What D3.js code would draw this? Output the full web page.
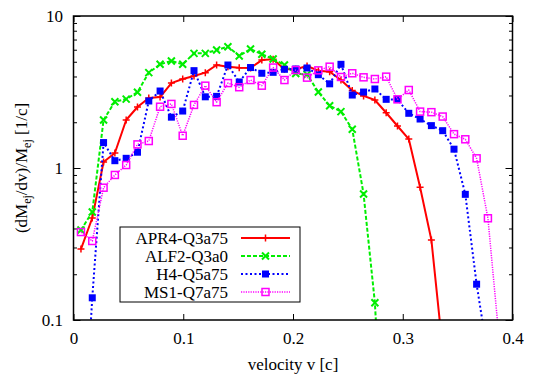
<!DOCTYPE html>
<html><head><meta charset="utf-8">
<script src="https://cdn.jsdelivr.net/npm/d3@7"></script>
<style>
body{margin:0;background:#fff}
svg{display:block}
svg text{font-family:"Liberation Serif","Tinos","DejaVu Serif","Nimbus Roman","FreeSerif","Times New Roman",Times,serif !important;fill:#000}
</style>
</head><body>
<svg id="chart" width="536" height="377"></svg>
<script>
// velocity bins
const velocity = [0.0068,0.0171,0.0274,0.0377,0.0480,0.0583,0.0686,0.0789,0.0892,0.0995,
  0.1098,0.1201,0.1304,0.1407,0.1510,0.1613,0.1716,0.1819,0.1922,0.2025,
  0.2128,0.2231,0.2334,0.2437,0.2540,0.2643,0.2746,0.2849,0.2952,0.3055,
  0.3158,0.3261,0.3364,0.3467,0.3570,0.3673,0.3776,0.3879];

const apr4 = [0.293,0.469,1.095,1.255,2.07,2.52,2.89,2.93,3.62,3.85,4.03,4.24,4.76,4.64,4.57,4.55,5.13,5.19,4.46,4.46,4.69,4.37,4.30,3.79,3.23,2.98,2.80,2.31,1.89,1.55,0.746,0.336,0.064];
const alf2 = [0.391,0.513,2.07,2.73,2.84,3.15,4.24,4.81,5.06,4.81,5.68,5.68,5.98,6.28,5.46,6.07,5.60,5.21,4.76,4.19,4.12,3.16,2.57,2.35,1.80,0.675,0.130,0.006];
const h4 = [0.0076,0.140,1.47,1.117,1.158,1.27,2.76,3.21,2.16,2.37,4.37,2.94,2.96,4.76,3.68,4.58,4.20,4.26,4.46,4.48,4.55,4.11,3.58,4.81,3.02,3.16,3.31,2.83,2.82,2.29,2.10,1.90,1.76,1.33,0.671,0.172,0.058];
const ms1 = [0.379,0.331,0.742,0.90,1.046,1.43,1.505,2.53,2.64,1.63,2.60,3.48,2.71,3.62,3.40,3.79,3.48,4.58,3.79,4.41,3.93,4.39,4.64,3.97,4.20,3.95,3.85,3.99,2.83,3.26,2.35,2.33,2.18,1.67,1.545,1.158,0.467,0.074];

const seriesNames = ["APR4-Q3a75","ALF2-Q3a0","H4-Q5a75","MS1-Q7a75"];
const seriesColors = ["#ff0000","#00ee00","#0000ff","#ff00ff"];
const xTicks = [0,0.1,0.2,0.3,0.4];
const yTicks = [0.1,1,10];
const yTickLabels = ["0.1","1","10"];
const yMinorTicks = [0.2,0.3,0.4,0.5,0.6,0.7,0.8,0.9,2,3,4,5,6,7,8,9];

const series = [
  {name:seriesNames[0], vals:apr4, color:seriesColors[0], dash:null, width:2, marker:"plus"},
  {name:seriesNames[1], vals:alf2, color:seriesColors[1], dash:"4,2", width:2, marker:"cross"},
  {name:seriesNames[2], vals:h4, color:seriesColors[2], dash:"2,2.5", width:2, marker:"fsquare"},
  {name:seriesNames[3], vals:ms1, color:seriesColors[3], dash:"1.2,1.2", width:1.5, marker:"osquare"}
];

const FONT = "'Liberation Serif', Tinos, 'DejaVu Serif', 'Nimbus Roman', FreeSerif, 'Times New Roman', Times, serif";
const L=73.5, R=512.5, T=16, B=320;
const svg = d3.select("#chart").attr("font-family", FONT);
const x = d3.scaleLinear().domain([0,0.4]).range([L,R]);
const y = d3.scaleLog().domain([0.1,10]).range([B,T]);

svg.append("defs").append("clipPath").attr("id","clip")
  .append("rect").attr("x",L).attr("y",T).attr("width",R-L).attr("height",B-T);

// axes
const fs = 17;
const gx = svg.append("g").attr("transform",`translate(0,${B})`)
  .call(d3.axisBottom(x).tickValues(xTicks).tickFormat(d3.format("")).tickSizeInner(-6).tickSizeOuter(0).tickPadding(12));
const gxt = svg.append("g").attr("transform",`translate(0,${T})`)
  .call(d3.axisTop(x).tickValues(xTicks).tickFormat("").tickSizeInner(-6).tickSizeOuter(0));
const gy = svg.append("g").attr("transform",`translate(${L},0)`)
  .call(d3.axisLeft(y).tickValues(yTicks).tickFormat((d,i)=>yTickLabels[i]).tickSizeInner(-7).tickSizeOuter(0).tickPadding(10.5));
const gym = svg.append("g").attr("transform",`translate(${L},0)`)
  .call(d3.axisLeft(y).tickValues(yMinorTicks).tickFormat("").tickSizeInner(-3.5).tickSizeOuter(0));
const gyr = svg.append("g").attr("transform",`translate(${R},0)`)
  .call(d3.axisRight(y).tickValues(yTicks).tickFormat("").tickSizeInner(-7).tickSizeOuter(0));
const gyrm = svg.append("g").attr("transform",`translate(${R},0)`)
  .call(d3.axisRight(y).tickValues(yMinorTicks).tickFormat("").tickSizeInner(-3.5).tickSizeOuter(0));
[gx,gxt,gy,gym,gyr,gyrm].forEach(g=>{
  g.attr("font-family", FONT).attr("font-size", fs);
  g.select(".domain").remove();
  g.selectAll("line").attr("stroke","#000").attr("stroke-width",1);
  g.selectAll("text").attr("font-size",fs).attr("fill","#000");
});

// lines
const line = d3.line().x(d=>x(d[0])).y(d=>y(d[1]));
const plot = svg.append("g").attr("clip-path","url(#clip)");

function drawMarker(g, type, color, cx, cy){
  if(type==="plus"){
    g.append("path").attr("d",`M${cx-3.5},${cy}H${cx+3.5}M${cx},${cy-3.5}V${cy+3.5}`)
      .attr("stroke",color).attr("stroke-width",1.5).attr("fill","none");
  } else if(type==="cross"){
    g.append("path").attr("d",`M${cx-3.5},${cy-3.5}L${cx+3.5},${cy+3.5}M${cx-3.5},${cy+3.5}L${cx+3.5},${cy-3.5}`)
      .attr("stroke",color).attr("stroke-width",2).attr("fill","none");
  } else if(type==="fsquare"){
    g.append("rect").attr("x",cx-3.5).attr("y",cy-3.5).attr("width",7).attr("height",7).attr("fill",color);
  } else {
    g.append("rect").attr("x",cx-3.5).attr("y",cy-3.5).attr("width",7).attr("height",7)
      .attr("fill","none").attr("stroke",color).attr("stroke-width",1.5);
  }
}

series.forEach(s=>{
  const pts = s.vals.map((v,i)=>[velocity[i],v]);
  plot.append("path").datum(pts).attr("d",line)
    .attr("fill","none").attr("stroke",s.color).attr("stroke-width",s.width)
    .attr("stroke-dasharray",s.dash).attr("stroke-linejoin","round");
  const mg = plot.append("g");
  pts.forEach(p=>{ if(p[1]>=0.1) drawMarker(mg, s.marker, s.color, x(p[0]), y(p[1])); });
});

// frame
svg.append("rect").attr("x",L).attr("y",T).attr("width",R-L).attr("height",B-T)
  .attr("fill","none").attr("stroke","#000").attr("stroke-width",1.5);

// legend
const lg = svg.append("g");
lg.append("rect").attr("x",120).attr("y",227).attr("width",180).attr("height",75)
  .attr("fill","#fff").attr("stroke","#000").attr("stroke-width",1);
series.forEach((s,i)=>{
  const cy = 238 + i*18;
  lg.append("text").attr("x",228).attr("y",cy+5.5).attr("text-anchor","end")
    .attr("font-size",fs).text(s.name);
  lg.append("line").attr("x1",241).attr("x2",290).attr("y1",cy).attr("y2",cy)
    .attr("stroke",s.color).attr("stroke-width",s.width).attr("stroke-dasharray",s.dash);
  drawMarker(lg, s.marker, s.color, 265.5, cy);
});

// axis titles
svg.append("text").attr("x",293).attr("y",370).attr("text-anchor","middle")
  .attr("font-size",fs).text("velocity v [c]");
const yt = svg.append("text").attr("transform","translate(27,168) rotate(-90)")
  .attr("text-anchor","middle").attr("font-size",fs);
yt.append("tspan").text("(dM");
yt.append("tspan").attr("font-size",12).attr("dy",4).text("ej");
yt.append("tspan").attr("dy",-4).text("/dv)/M");
yt.append("tspan").attr("font-size",12).attr("dy",4).text("ej");
yt.append("tspan").attr("dy",-4).text(" [1/c]");
</script>
</body></html>
